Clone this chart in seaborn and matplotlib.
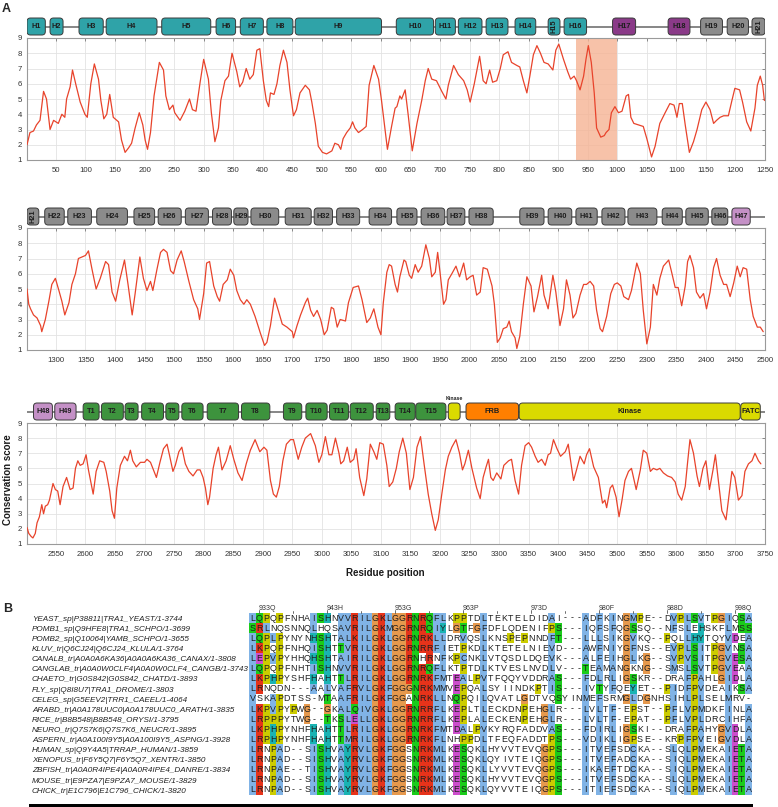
import numpy as np
import pandas as pd
import matplotlib
matplotlib.use("Agg")
import matplotlib.pyplot as plt
import matplotlib.transforms as mtransforms
from matplotlib.patches import FancyBboxPatch, Rectangle
from matplotlib.colors import ListedColormap
import seaborn as sns

# ---------------- panel A: conservation score, three rows of 1250 residues ----------------
row_starts = [1, 1251, 2501]
highlight_region = (930, 1000)

row1_scores = [
    (1, 2.0), (6, 2.8), (12, 2.9), (17, 3.3), (23, 3.6), (29, 5.5), (34, 5.0), (40, 3.0), (46, 3.6),
    (54, 3.4), (60, 4.0), (65, 3.8), (68, 5.0), (74, 5.8), (78, 6.9), (84, 5.9), (91, 4.8), (99, 4.0),
    (103, 3.8), (109, 6.0), (115, 7.3), (122, 6.3), (126, 4.9), (131, 3.7), (136, 4.0), (141, 5.3),
    (147, 3.8), (156, 3.5), (161, 2.3), (167, 1.5), (173, 1.8), (178, 2.1), (184, 3.1), (191, 4.1),
    (197, 3.3), (201, 2.3), (205, 1.7), (210, 2.8), (216, 5.2), (225, 7.4), (232, 6.9), (236, 5.2),
    (242, 4.3), (248, 4.6), (251, 4.1), (260, 3.6), (268, 4.2), (276, 5.0), (281, 4.3), (287, 4.2),
    (294, 6.1), (300, 7.6), (308, 6.3), (313, 4.1), (319, 2.2), (325, 3.1), (329, 4.9), (336, 6.2),
    (342, 6.5), (348, 8.0), (356, 6.8), (361, 5.8), (366, 6.1), (372, 7.0), (378, 6.3), (384, 6.6),
    (390, 8.2), (395, 8.3), (401, 6.2), (406, 4.9), (410, 4.5), (413, 5.4), (419, 5.3), (424, 6.0),
    (429, 7.2), (435, 8.2), (441, 7.4), (446, 5.6), (452, 3.9), (457, 4.3), (463, 5.4), (472, 5.9),
    (479, 5.6), (483, 4.8), (489, 3.4), (494, 1.9), (501, 1.5), (508, 1.4), (517, 1.6), (522, 2.1),
    (528, 2.0), (532, 1.7), (536, 2.4), (542, 2.8), (548, 3.1), (552, 3.5), (556, 3.1), (562, 2.8),
    (569, 3.0), (575, 3.2), (580, 5.9), (588, 7.2), (596, 6.3), (601, 4.9), (611, 1.7), (618, 3.2),
    (624, 4.4), (627, 4.5), (632, 5.2), (635, 5.0), (641, 5.6), (646, 4.0), (653, 1.6), (661, 3.4),
    (669, 4.9), (675, 6.2), (680, 7.0), (686, 6.3), (694, 6.2), (703, 5.5), (710, 5.0), (714, 5.9),
    (723, 7.2), (731, 6.6), (740, 6.2), (746, 5.6), (751, 4.8), (758, 6.0), (767, 7.8), (773, 6.2),
    (778, 6.0), (784, 6.9), (789, 6.1), (796, 6.2), (802, 7.0), (807, 7.9), (815, 8.1), (821, 7.4),
    (830, 7.2), (835, 7.1), (841, 6.2), (847, 5.4), (852, 6.5), (858, 7.9), (864, 8.5), (870, 8.0),
    (876, 7.4), (883, 7.3), (891, 6.9), (896, 8.2), (901, 8.6), (909, 7.6), (916, 6.8), (921, 6.3),
    (927, 6.5), (931, 6.2), (937, 5.6), (943, 6.5), (947, 7.6), (951, 8.5), (956, 7.4), (961, 5.4),
    (965, 3.1), (972, 2.5), (978, 2.6), (981, 2.8), (986, 3.0), (990, 4.1), (996, 4.5), (1002, 4.1),
    (1008, 4.2), (1015, 5.2), (1019, 5.3), (1023, 3.8), (1028, 3.4), (1036, 3.3), (1044, 3.2),
    (1050, 2.4), (1058, 1.2), (1064, 1.9), (1072, 3.4), (1081, 4.1), (1089, 4.7), (1096, 4.6),
    (1101, 3.8), (1105, 4.7), (1110, 4.7), (1115, 3.3), (1122, 1.5), (1129, 2.2), (1135, 3.0),
    (1143, 4.3), (1150, 4.8), (1157, 4.3), (1163, 3.4), (1168, 3.6), (1174, 3.8), (1180, 3.9),
    (1188, 3.9), (1194, 4.9), (1199, 5.7), (1207, 5.6), (1212, 4.8), (1219, 3.5), (1226, 2.9),
    (1233, 4.4), (1237, 5.9), (1242, 6.5), (1246, 5.9), (1249, 4.9),
]

row2_scores = [
    (1251, 5.0), (1254, 4.0), (1257, 3.7), (1262, 3.3), (1268, 3.1), (1274, 2.6), (1276, 2.2),
    (1282, 3.0), (1288, 4.2), (1293, 5.3), (1299, 5.7), (1305, 4.9), (1310, 4.2), (1315, 3.3),
    (1322, 4.1), (1327, 5.3), (1333, 6.0), (1338, 7.0), (1344, 7.1), (1350, 7.2), (1355, 7.5),
    (1361, 6.3), (1368, 5.0), (1375, 5.7), (1384, 6.8), (1389, 6.6), (1395, 4.8), (1401, 4.2),
    (1408, 5.6), (1416, 6.9), (1422, 5.3), (1429, 3.3), (1434, 4.7), (1442, 7.1), (1448, 5.7),
    (1454, 4.9), (1460, 5.5), (1464, 4.9), (1471, 6.3), (1477, 7.4), (1482, 7.6), (1488, 7.4),
    (1494, 6.2), (1499, 6.0), (1505, 6.9), (1512, 7.5), (1517, 6.8), (1525, 5.5), (1533, 4.3),
    (1540, 3.7), (1543, 3.0), (1550, 4.7), (1555, 6.7), (1560, 6.8), (1567, 5.2), (1573, 4.5),
    (1577, 4.2), (1583, 5.3), (1590, 5.6), (1595, 6.3), (1601, 5.9), (1606, 4.9), (1612, 4.3),
    (1618, 4.0), (1623, 4.3), (1629, 4.0), (1637, 3.2), (1646, 2.1), (1653, 1.3), (1657, 1.5),
    (1663, 2.6), (1670, 4.4), (1677, 3.5), (1683, 2.7), (1691, 2.5), (1700, 2.2), (1702, 1.8),
    (1708, 2.6), (1714, 3.3), (1722, 4.1), (1726, 4.4), (1731, 3.6), (1736, 3.2), (1742, 3.6),
    (1748, 3.0), (1754, 2.0), (1759, 2.3), (1766, 3.8), (1770, 3.7), (1776, 2.5), (1781, 3.0),
    (1790, 2.9), (1795, 4.1), (1803, 5.1), (1812, 5.2), (1818, 4.3), (1826, 2.8), (1832, 3.1),
    (1838, 3.7), (1845, 2.5), (1850, 2.0), (1854, 4.1), (1860, 6.1), (1864, 6.6), (1868, 6.5),
    (1874, 5.3), (1878, 4.8), (1882, 5.8), (1889, 6.9), (1892, 6.8), (1898, 5.9), (1902, 5.7),
    (1908, 6.6), (1913, 6.1), (1919, 6.5), (1926, 7.9), (1932, 7.0), (1936, 5.8), (1942, 6.1),
    (1946, 7.4), (1950, 6.1), (1956, 4.0), (1960, 4.3), (1964, 5.6), (1970, 6.0), (1977, 6.5),
    (1983, 5.8), (1990, 6.7), (1995, 5.6), (2001, 5.8), (2006, 5.9), (2012, 4.6), (2018, 4.8),
    (2023, 6.4), (2030, 6.3), (2038, 5.2), (2042, 4.0), (2047, 1.5), (2052, 1.8), (2057, 2.4),
    (2063, 2.5), (2067, 2.9), (2071, 2.2), (2077, 1.8), (2080, 1.1), (2085, 1.9), (2091, 4.0),
    (2097, 5.8), (2104, 5.2), (2109, 3.5), (2115, 4.5), (2122, 5.9), (2126, 4.6), (2133, 3.7),
    (2141, 5.9), (2146, 4.8), (2153, 2.6), (2159, 3.7), (2164, 5.6), (2170, 4.6), (2175, 3.1),
    (2180, 3.4), (2187, 4.6), (2193, 5.3), (2198, 5.3), (2204, 5.5), (2210, 5.2), (2215, 3.6),
    (2221, 2.4), (2225, 2.2), (2232, 3.2), (2239, 4.7), (2245, 5.3), (2250, 5.4), (2256, 5.2),
    (2261, 4.5), (2269, 4.3), (2274, 4.9), (2283, 6.7), (2289, 6.0), (2294, 3.6), (2300, 1.4),
    (2306, 2.5), (2311, 5.3), (2317, 4.6), (2322, 5.7), (2328, 6.5), (2337, 6.9), (2342, 6.1),
    (2348, 5.1), (2353, 5.1), (2359, 3.9), (2365, 5.2), (2369, 6.8), (2373, 7.2), (2379, 6.4),
    (2384, 4.8), (2390, 4.4), (2396, 4.7), (2401, 3.7), (2407, 4.8), (2413, 6.4), (2418, 7.0),
    (2424, 5.9), (2430, 5.3), (2435, 5.3), (2441, 4.5), (2447, 5.4), (2453, 6.5), (2458, 5.8),
    (2463, 6.4), (2469, 6.3), (2475, 4.3), (2480, 3.2), (2487, 2.5), (2492, 2.5), (2497, 2.2),
]

row3_scores = [
    (2501, 2.1), (2504, 1.7), (2508, 1.5), (2511, 1.4), (2515, 1.7), (2518, 2.4), (2522, 2.8),
    (2526, 3.6), (2529, 3.0), (2532, 3.5), (2536, 3.6), (2539, 3.9), (2545, 5.0), (2549, 4.6),
    (2553, 4.5), (2557, 3.6), (2562, 4.8), (2568, 5.4), (2574, 4.6), (2579, 4.7), (2583, 6.0),
    (2587, 6.5), (2591, 6.2), (2596, 6.3), (2601, 6.9), (2605, 5.9), (2613, 4.3), (2618, 5.8),
    (2624, 6.5), (2631, 6.4), (2635, 5.8), (2641, 4.5), (2645, 3.2), (2649, 2.7), (2653, 4.7),
    (2659, 6.2), (2666, 6.8), (2671, 6.5), (2676, 7.2), (2680, 6.5), (2686, 6.1), (2693, 6.4),
    (2700, 6.4), (2704, 6.6), (2710, 6.4), (2714, 6.0), (2720, 5.4), (2726, 6.4), (2732, 7.3),
    (2738, 7.6), (2742, 6.9), (2748, 5.8), (2752, 6.2), (2758, 7.1), (2763, 7.4), (2769, 6.3),
    (2775, 5.8), (2782, 5.5), (2789, 5.9), (2794, 5.9), (2799, 5.4), (2803, 4.7), (2807, 3.6),
    (2810, 4.1), (2816, 6.0), (2821, 6.9), (2825, 7.4), (2831, 5.9), (2838, 6.5), (2845, 7.5),
    (2851, 6.6), (2858, 5.7), (2865, 5.2), (2872, 6.3), (2879, 7.2), (2887, 7.9), (2895, 7.1),
    (2902, 7.4), (2907, 7.2), (2913, 5.2), (2918, 4.3), (2923, 4.1), (2928, 4.8), (2934, 6.5),
    (2940, 7.6), (2947, 7.9), (2952, 7.9), (2960, 6.6), (2966, 7.4), (2972, 8.0), (2981, 8.3),
    (2989, 7.5), (2995, 6.4), (3000, 6.9), (3006, 8.1), (3012, 6.9), (3017, 6.9), (3023, 8.0),
    (3029, 7.0), (3032, 6.3), (3037, 6.5), (3043, 7.4), (3048, 6.4), (3054, 6.6), (3058, 7.3),
    (3064, 5.4), (3071, 4.2), (3076, 5.3), (3082, 7.6), (3088, 7.1), (3093, 6.6), (3098, 7.7),
    (3104, 7.6), (3110, 6.2), (3114, 4.8), (3120, 5.1), (3126, 6.0), (3131, 7.1), (3137, 8.0),
    (3143, 7.0), (3149, 4.6), (3155, 5.4), (3161, 7.4), (3167, 8.1), (3173, 6.3), (3180, 4.3),
    (3186, 3.0), (3192, 1.9), (3197, 2.6), (3203, 4.3), (3209, 5.9), (3214, 6.8), (3220, 7.4),
    (3227, 7.9), (3233, 7.0), (3238, 5.9), (3242, 6.3), (3248, 7.2), (3254, 6.0), (3262, 4.7),
    (3268, 4.0), (3273, 5.4), (3278, 6.1), (3282, 6.6), (3286, 5.4), (3290, 5.2), (3296, 5.7),
    (3303, 5.3), (3308, 6.2), (3316, 6.5), (3321, 6.6), (3327, 5.2), (3333, 4.3), (3338, 6.2),
    (3344, 7.5), (3350, 7.7), (3355, 7.4), (3361, 6.8), (3366, 6.4), (3372, 6.6), (3378, 6.2),
    (3383, 6.9), (3387, 7.0), (3392, 7.9), (3398, 7.3), (3404, 6.8), (3412, 7.1), (3417, 7.6),
    (3421, 6.5), (3426, 5.2), (3431, 5.9), (3437, 6.8), (3444, 6.3), (3448, 6.9), (3453, 7.3),
    (3460, 6.1), (3468, 5.4), (3475, 3.7), (3479, 3.9), (3482, 3.4), (3488, 4.7), (3492, 4.9),
    (3498, 4.1), (3503, 2.8), (3508, 3.9), (3513, 5.2), (3519, 5.8), (3524, 6.0), (3532, 4.6),
    (3539, 5.9), (3544, 7.2), (3550, 7.0), (3556, 5.8), (3561, 6.0), (3567, 5.9), (3572, 6.0),
    (3578, 5.7), (3585, 5.5), (3592, 5.4), (3598, 5.1), (3603, 4.3), (3609, 3.9), (3615, 4.8),
    (3619, 6.4), (3623, 7.9), (3629, 7.0), (3635, 5.5), (3639, 4.8), (3645, 6.0), (3650, 6.5),
    (3656, 4.6), (3662, 5.9), (3666, 6.9), (3671, 5.2), (3677, 3.2), (3684, 2.6), (3688, 3.9),
    (3694, 5.8), (3699, 5.4), (3705, 3.9), (3711, 4.2), (3716, 5.8), (3722, 6.3), (3728, 6.5),
    (3733, 7.0), (3739, 6.5), (3743, 6.3),
]

# domain name, first residue, last residue, domain class
domains = [
    ("H1", 1, 32, "heat_a"), ("H2", 40, 62, "heat_a"), ("H3", 89, 130, "heat_a"),
    ("H4", 135, 221, "heat_a"), ("H5", 229, 312, "heat_a"), ("H6", 321, 354, "heat_a"),
    ("H7", 362, 401, "heat_a"), ("H8", 407, 451, "heat_a"), ("H9", 455, 601, "heat_a"),
    ("H10", 626, 689, "heat_a"), ("H11", 692, 726, "heat_a"), ("H12", 731, 771, "heat_a"),
    ("H13", 778, 815, "heat_a"), ("H14", 827, 862, "heat_a"), ("H15", 883, 903, "heat_a"),
    ("H16", 910, 948, "heat_a"), ("H17", 992, 1031, "heat_b"), ("H18", 1086, 1123, "heat_b"),
    ("H19", 1141, 1178, "heat_c"), ("H20", 1186, 1222, "heat_c"), ("H21", 1228, 1271, "heat_c"),
    ("H22", 1281, 1314, "heat_c"), ("H23", 1320, 1360, "heat_c"), ("H24", 1369, 1421, "heat_c"),
    ("H25", 1432, 1467, "heat_c"), ("H26", 1473, 1512, "heat_c"), ("H27", 1519, 1558, "heat_c"),
    ("H28", 1565, 1597, "heat_c"), ("H29", 1601, 1625, "heat_c"), ("H30", 1630, 1677, "heat_c"),
    ("H31", 1688, 1732, "heat_c"), ("H32", 1737, 1768, "heat_c"), ("H33", 1775, 1814, "heat_c"),
    ("H34", 1830, 1868, "heat_c"), ("H35", 1877, 1911, "heat_c"), ("H36", 1918, 1958, "heat_c"),
    ("H37", 1962, 1992, "heat_c"), ("H38", 1999, 2040, "heat_c"), ("H39", 2085, 2126, "heat_c"),
    ("H40", 2133, 2173, "heat_c"), ("H41", 2180, 2216, "heat_c"), ("H42", 2224, 2263, "heat_c"),
    ("H43", 2268, 2317, "heat_c"), ("H44", 2326, 2360, "heat_c"), ("H45", 2366, 2404, "heat_c"),
    ("H46", 2410, 2437, "heat_c"), ("H47", 2444, 2475, "heat_d"), ("H48", 2512, 2544, "heat_d"),
    ("H49", 2548, 2584, "heat_d"), ("T1", 2596, 2623, "tpr"), ("T2", 2627, 2664, "tpr"),
    ("T3", 2667, 2689, "tpr"), ("T4", 2695, 2732, "tpr"), ("T5", 2736, 2758, "tpr"),
    ("T6", 2763, 2799, "tpr"), ("T7", 2806, 2859, "tpr"), ("T8", 2864, 2912, "tpr"),
    ("T9", 2935, 2966, "tpr"), ("T10", 2973, 3009, "tpr"), ("T11", 3013, 3045, "tpr"),
    ("T12", 3048, 3087, "tpr"), ("T13", 3092, 3115, "tpr"), ("T14", 3124, 3158, "tpr"),
    ("T15", 3159, 3210, "tpr"), ("Kinase", 3214, 3234, "kinase"), ("FRB", 3244, 3333, "frb"),
    ("Kinase", 3334, 3708, "kinase"), ("FATC", 3709, 3742, "kinase"),
]

# ---------------- panel B: alignment ----------------
seq_names = [
    "YEAST_sp|P38811|TRA1_YEAST/1-3744",
    "POMB1_sp|Q9HFE8|TRA1_SCHPO/1-3699",
    "POMB2_sp|Q10064|YAMB_SCHPO/1-3655",
    "KLUV_tr|Q6CJ24|Q6CJ24_KLULA/1-3764",
    "CANALB_tr|A0A0A6KA36|A0A0A6KA36_CANAX/1-3808",
    "CANGLAB_tr|A0A0W0CLF4|A0A0W0CLF4_CANGB/1-3743",
    "CHAETO_tr|G0S842|G0S842_CHATD/1-3893",
    "FLY_sp|Q8I8U7|TRA1_DROME/1-3803",
    "CELEG_sp|G5EEV2|TRR1_CAEEL/1-4064",
    "ARABD_tr|A0A178UUC0|A0A178UUC0_ARATH/1-3835",
    "RICE_tr|B8B548|B8B548_ORYSI/1-3795",
    "NEURO_tr|Q7S7K6|Q7S7K6_NEUCR/1-3895",
    "ASPERN_tr|A0A100I9Y5|A0A100I9Y5_ASPNG/1-3928",
    "HUMAN_sp|Q9Y4A5|TRRAP_HUMAN/1-3859",
    "XENOPUS_tr|F6Y5Q7|F6Y5Q7_XENTR/1-3850",
    "ZBFISH_tr|A0A0R4IPE4|A0A0R4IPE4_DANRE/1-3834",
    "MOUSE_tr|E9PZA7|E9PZA7_MOUSE/1-3829",
    "CHICK_tr|E1C796|E1C796_CHICK/1-3820",
]
seqs = [
    "LQPQPFNHAISHNVVRILGKLGGRNRQFLKPPTDLTEKTELDIDAI---ADFKINGMPE--DVPLSVTPGIQSA",
    "SRLNQSNNQLHQSAVRILGKMGGRNRQIYLGTFGFDFLQDENIFPS---IQFSFQGSSQ--NFSLEHSKFLMSS",
    "LQPLPYNYNHSHTALKILGKLGGRNRKLLDRVQSLKNSPEPNNDFT---LLLSIKGVKQ--PQLLHYTQYVDEA",
    "LKPQPFNHQISHTTVRILGKLGGRNRRFIETPKDLKTETELNIEVD---AWFNIYGFNS--EVPLSITPGVNSA",
    "LEPVPYHHQHSHTAIRILGKLGGRNHRNFKPCNKLVTQSDLDQEVK---ALFEIHGLKG--SVPVSITPGVESA",
    "LQPQPFNHTISHNVVRILGKLGGRNRQFLKTPTDLKTVESLNVDLV---TEAMANGKNG--SMSLSVTPGVEAA",
    "LKPHPYSHFHAHTTLRILGKLGGRNRKFMTEALPVTFQQYVDDRAS---FDLRLIGSKR--DRAFPAHLGIDLA",
    "LRNQDN---AALVAFRVLGKFGGGNRKMMVEPQALSYIINDKPTIS---IVTYFQEYET--PIDFPVDEAIKSA",
    "VSKAPDTSS-MTAAFRILGKFGGANRKLLNQPQILQVATLGDTVQSYINMEFSRMGLDGNHSIHLPLSELMRV-",
    "LKPVPYPWG--GKALQIVGKLGGRNRRFLKEPLTLECKDNPEHGLR---LVLTF-EPST--PFLVPMDKFINLA",
    "LRPPPYTWG--TKSLELLGKLGGRNRRFLKEPLALECKENPEHGLR---LVLTF-EPAT--PFLVPLDRCIHFA",
    "LKPHPYNHFHAHTTLRILGKLGGRNRKFMTDALPVKYRQFADDVAS---FDIRLIGSKI--DRAFPAHYGVDLA",
    "LRPHPYNHFHAHTTMRILGKLGGRNRKFLNHPPDLTFEQFADDTPS---VDIKLIGPSE--KRPFPVEIGVDLA",
    "LRNPAD--SISHVAYRVLGKFGGSNRKMLKESQKLHYVVTEVQGPS---ITVEFSDCKA--SLQLPMEKAIETA",
    "LRNPAD--SISHVAYRVLGKFGGSNRKMLKESQKLQYIVTEIQGPS---ITVEFADCKA--SIQLPMEKAIETA",
    "LRNPAE--TISHVAYRVLGKFGGSNRKMLKESQKLLYVVTEVQGPS---IKAEFTDCKA--SIQLPMEKAIETA",
    "LRNPAD--SISHVAYRVLGKFGGSNRKMLKESQKLHYVVTEVQGPS---ITVEFSDCKA--SLQLPMEKAIETA",
    "LRNPAD--SISHVAYRVLGKFGGSNRKMLKESQKLQYVVTEIQGPS---ITIEFSDCKA--SIQLPMEKAIETA",
]
ref_first_residue = 932   # YEAST residue number of the first column


# Clustal X style colour classes (0 = unconserved / white)
HYDRO = "WLVIMAFCHP"


def clustal_class(res, col):
    n = len(col)

    def frac(group):
        return sum(col.count(a) for a in group) / n

    def any85(group):
        return any(col.count(a) / n > 0.85 for a in group)

    hyd = frac(HYDRO) > 0.6
    kr = frac("KR") > 0.6
    if res in "AILMFWV":
        return 1 if hyd else 0
    if res == "C":
        return 1 if hyd else (5 if any85("C") else 0)
    if res in "KR":
        return 2 if (kr or any85("KRQ")) else 0
    if res == "E":
        return 3 if (kr or frac("QE") > 0.5 or frac("ED") > 0.5 or any85("EQD")) else 0
    if res == "D":
        return 3 if (kr or any85("KRQ") or frac("ED") > 0.5) else 0
    if res == "N":
        return 4 if (frac("N") > 0.5 or any85("NY")) else 0
    if res == "Q":
        return 4 if (kr or frac("QE") > 0.5 or any85("QEKR")) else 0
    if res in "ST":
        return 4 if (hyd or frac("TS") > 0.5 or any85("ST")) else 0
    if res == "G":
        return 6
    if res == "P":
        return 7
    if res in "HY":
        return 8 if (hyd or any85("WYACPQFHILMV")) else 0
    return 0


# ---------------- figure ----------------
sns.set_theme(style="white")
plt.rcParams["font.family"] = ["Liberation Sans", "DejaVu Sans"]

W, H = 778, 807
fig = plt.figure(figsize=(W / 100, H / 100), dpi=100)


def px_axes(x0, y0, x1, y1):
    return fig.add_axes([x0 / W, 1 - y1 / H, (x1 - x0) / W, (y1 - y0) / H])


group_colors = {
    "heat_a": "#2fa3a8", "heat_b": "#8a3a88", "heat_c": "#8b8b8b", "heat_d": "#c490c6",
    "tpr": "#3d933d", "kinase": "#dada00", "frb": "#ff7f00",
}
line_color = "#e8432b"

AX_L, AX_R = 27, 765
row_tops = [38, 228, 423]
row_bots = [160, 350, 544]
span = 1249
ppr = (AX_R - AX_L) / span   # pixels per residue

for k, (scores, start) in enumerate(zip([row1_scores, row2_scores, row3_scores], row_starts)):
    top, bot = row_tops[k], row_bots[k]
    ax = px_axes(AX_L, top, AX_R, bot)
    df = pd.DataFrame(scores, columns=["position", "score"])
    sns.lineplot(data=df, x="position", y="score", ax=ax, color=line_color,
                 lw=0.9, errorbar=None, zorder=3)
    if highlight_region[0] >= start and highlight_region[1] <= start + span:
        ax.axvspan(*highlight_region, color="#f5b394", alpha=0.8, lw=0, zorder=1)
    ax.set_xlim(start, start + span)
    ax.set_ylim(1, 9)
    ax.set_yticks(range(1, 10))
    first = (start // 50 + 1) * 50
    ax.set_xticks(range(first, start + span + 1, 50))
    ax.grid(True, color="#e3e3e3", lw=0.6)
    ax.set_axisbelow(True)
    ax.set_xlabel("")
    ax.set_ylabel("")
    for s in ax.spines.values():
        s.set_color("#9a9a9a")
        s.set_linewidth(0.8)
    ax.tick_params(direction="in", length=2.5, width=0.6, color="#777777",
                   labelsize=5.6, labelcolor="#333333", top=True, right=True,
                   labeltop=False, labelright=False, pad=3.5)
    ax.tick_params(axis="x", pad=5)

    # domain strip above the row
    dax = px_axes(AX_L, top - 24, AX_R, top)
    dax.set_xlim(start, start + span)
    dax.set_ylim(0, 24 / ppr)
    dax.axis("off")
    yc = 11.5 / ppr
    dax.plot([start, start + span], [yc, yc], color="#7d7d7d", lw=1.3, zorder=1,
             solid_capstyle="butt")
    for name, d0, d1, grp in domains:
        s = max(d0, start)
        e = min(d1, start + span)
        if e <= s:
            continue
        box = FancyBboxPatch((s, 3 / ppr), e - s, 17 / ppr,
                             boxstyle=f"round,pad=0,rounding_size={3.5 / ppr}",
                             fc=group_colors[grp], ec="#3a3a3a", lw=0.7, zorder=2)
        dax.add_patch(box)
        wpx = (e - s) * ppr
        cx = (s + e) / 2
        if len(name) * 4.0 + 1.5 <= wpx:
            dax.text(cx, yc, name, ha="center", va="center", fontsize=5.3,
                     fontweight="bold", color="#1e1e1e", zorder=3)
        elif len(name) * 4.0 + 1.5 <= 17:
            dax.text(cx, yc, name, ha="center", va="center", fontsize=5.3,
                     fontweight="bold", color="#1e1e1e", rotation=90, zorder=3)
        else:
            dax.text(cx, 25 / ppr, name, ha="center", va="center", fontsize=3.8,
                     fontweight="bold", color="#1e1e1e", zorder=3)

fig.text(385 / W, 1 - 573 / H, "Residue position", ha="center", va="center",
         fontsize=7, fontweight="bold", color="#1a1a1a")
fig.text(8 / W, 1 - 480 / H, "Conservation score", ha="center", va="center",
         rotation=90, fontsize=7, fontweight="bold", color="#1a1a1a")
fig.text(2 / W, 1 - 9 / H, "A", ha="left", va="center", fontsize=9, fontweight="bold")
fig.text(3 / W, 1 - 609 / H, "B", ha="left", va="center", fontsize=9, fontweight="bold")

# ---------------- panel B drawing ----------------
n_rows, n_cols = len(seqs), len(seqs[0])
palette = ["#ffffff", "#80b3e6", "#e6331a", "#cc4dcc", "#1acc1a",
           "#e68080", "#e6994d", "#cccc00", "#1ab3b3"]
codes = np.zeros((n_rows, n_cols), dtype=int)
for c in range(n_cols):
    col = [s[c] for s in seqs]
    for r in range(n_rows):
        codes[r, c] = clustal_class(col[r], col)
letters = np.array([list(s) for s in seqs])

hax = px_axes(249.3, 613, 752, 795)
sns.heatmap(codes, ax=hax, cmap=ListedColormap(palette), vmin=-0.5,
            vmax=len(palette) - 0.5, cbar=False, annot=letters, fmt="",
            annot_kws=dict(fontsize=6.4, color="#1e1e1e"),
            xticklabels=False, yticklabels=False, linewidths=0)

trans = mtransforms.blended_transform_factory(fig.transFigure, hax.transData)
for r, name in enumerate(seq_names):
    hax.text(32 / W, r + 0.62, name, transform=trans, ha="left", va="center",
             fontsize=5.9, style="italic", color="#222222")

# ruler with reference (YEAST) numbering every 10 columns
num = ref_first_residue - 1
for c in range(n_cols):
    aa = seqs[0][c]
    if aa != "-":
        num += 1
    if c % 10 == 1:
        hax.plot([c + 0.5, c + 0.5], [-0.25, 0], color="#555555", lw=0.6, clip_on=False)
        hax.text(c + 0.4, -0.33, f"{num}{aa}", ha="left", va="baseline",
                 fontsize=5.0, color="#333333")
    elif c % 10 == 6:
        hax.plot([c + 0.5, c + 0.5], [-0.18, 0], color="#555555", lw=0.6, clip_on=False)

fig.add_artist(Rectangle((29 / W, 0), (753 - 29) / W, 3.5 / H,
                         transform=fig.transFigure, fc="black", ec="none"))

fig.savefig("out.png", dpi=100)
